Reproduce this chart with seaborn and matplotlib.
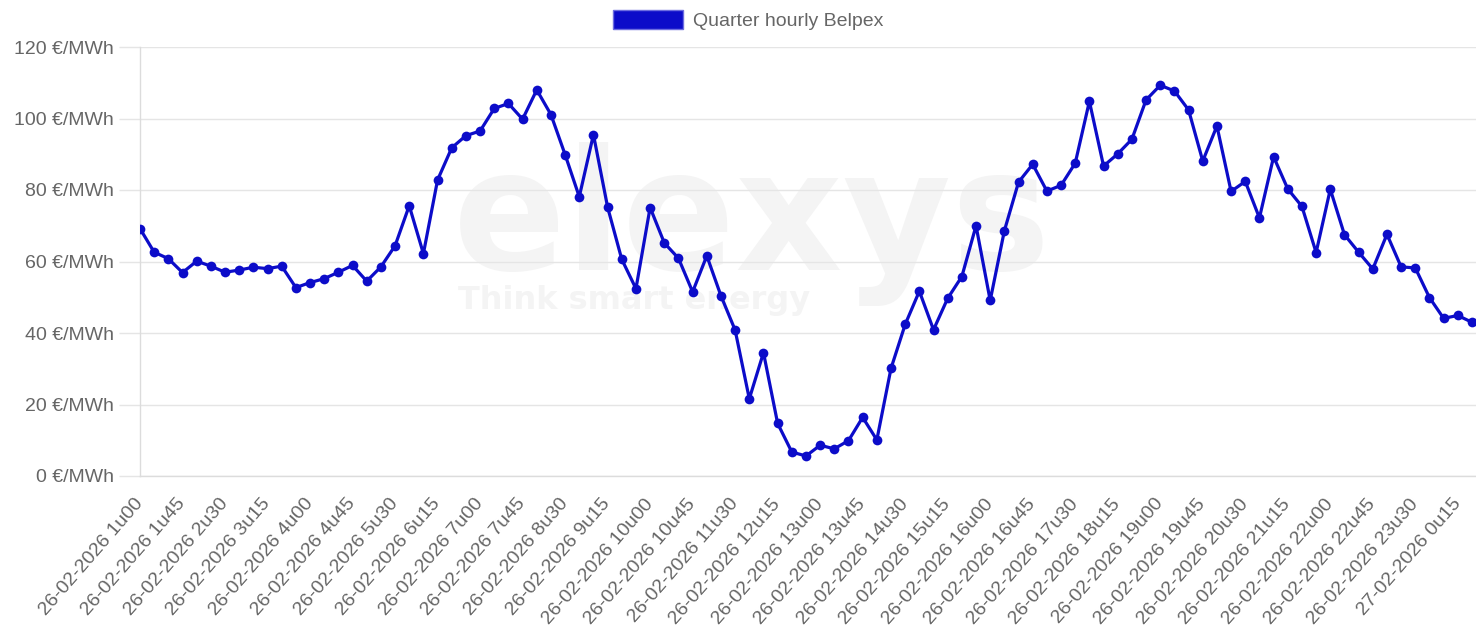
import matplotlib
matplotlib.use("Agg")
import matplotlib.pyplot as plt
from matplotlib.patches import Patch
import pandas as pd
import seaborn as sns

# kwartierprijzen Belpex, 26-02-2026 1u00 t/m 27-02-2026 0u30
prices = [
    69.2, 62.6, 60.8, 56.9, 60.1, 58.7, 57.0, 57.6, 58.4, 58.0,
    58.7, 52.7, 54.1, 55.2, 57.0, 58.9, 54.5, 58.5, 64.4, 75.6,
    62.2, 82.8, 91.8, 95.2, 96.5, 102.8, 104.2, 99.8, 108.0, 101.1,
    89.9, 78.1, 95.5, 75.2, 60.6, 52.4, 75.1, 65.2, 60.9, 51.5,
    61.6, 50.4, 40.8, 21.6, 34.5, 14.7, 6.7, 5.6, 8.6, 7.6,
    9.9, 16.4, 10.1, 30.1, 42.4, 51.7, 40.9, 49.7, 55.8, 70.0,
    49.1, 68.6, 82.2, 87.2, 79.7, 81.3, 87.5, 104.8, 86.7, 90.1,
    94.2, 105.2, 109.3, 107.7, 102.4, 88.1, 97.9, 79.6, 82.4, 72.2,
    89.3, 80.3, 75.4, 62.5, 80.2, 67.5, 62.6, 57.9, 67.6, 58.5,
    58.2, 49.9, 44.1, 44.9, 43.0,
]
times = pd.date_range("2026-02-26 01:00", periods=len(prices), freq="15min")
time_labels = [f"{t.strftime('%d-%m-%Y')} {t.hour}u{t.minute:02d}" for t in times]
label_step = 3
y_ticks = [0, 20, 40, 60, 80, 100, 120]
series_name = "Quarter hourly Belpex"

df = pd.DataFrame({"pos": range(len(prices)), "price": prices, "label": time_labels})

sns.set_theme(style="white")
plt.rcParams["font.family"] = ["Liberation Sans", "DejaVu Sans"]

line_color = "#0c0cc9"
text_color = "#666666"
grid_color = "#e5e5e5"

fig = plt.figure(figsize=(14.76, 6.34), dpi=100)
ax = fig.add_axes([140 / 1476, 1 - 476 / 634, 1336 / 1476, 429 / 634])

# watermark (heel licht)
ax.text(0.458, 0.48, "elexys", transform=ax.transAxes, ha="center", va="baseline",
        fontsize=120, fontweight="bold", color="#f4f4f4", zorder=0,
        family=["DejaVu Sans"])
ax.text(0.37, 0.39, "Think smart energy", transform=ax.transAxes, ha="center",
        va="baseline", fontsize=23, fontweight="bold", color="#f4f4f4", zorder=0,
        family=["DejaVu Sans"])

sns.lineplot(data=df, x="pos", y="price", color=line_color, linewidth=2.3,
             marker="o", markersize=7, markeredgewidth=0, ax=ax, zorder=3,
             legend=False)

ax.set_xlim(0, (1476 - 140) / 14.17)
ax.set_ylim(0, 120)
ax.set_yticks(y_ticks)
ax.set_yticklabels([f"{v} €/MWh" for v in y_ticks])
ax.set_xticks(df["pos"][::label_step])
ax.set_xticklabels(df["label"][::label_step], rotation=49, ha="right",
                   va="center", rotation_mode="anchor")
ax.set_xlabel("")
ax.set_ylabel("")

ax.yaxis.grid(True, color=grid_color, linewidth=1)
ax.xaxis.grid(False)
ax.tick_params(axis="y", length=15, width=1, color=grid_color, pad=4,
               labelsize=14, labelcolor=text_color, left=True)
ax.tick_params(axis="x", length=0, pad=18, labelsize=14, labelcolor=text_color)
for side in ["top", "right"]:
    ax.spines[side].set_visible(False)
for side in ["left", "bottom"]:
    ax.spines[side].set_color("#dcdcdc")
    ax.spines[side].set_linewidth(1)

handle = Patch(facecolor=line_color, edgecolor="#6d6de0", linewidth=1)
fig.legend([handle], [series_name], loc="center", bbox_to_anchor=(0.507, 1 - 20 / 634),
           frameon=False, fontsize=14, labelcolor=text_color,
           handlelength=3.6, handleheight=1.15, handletextpad=0.5)

fig.savefig("out.png", dpi=100, facecolor="white")
